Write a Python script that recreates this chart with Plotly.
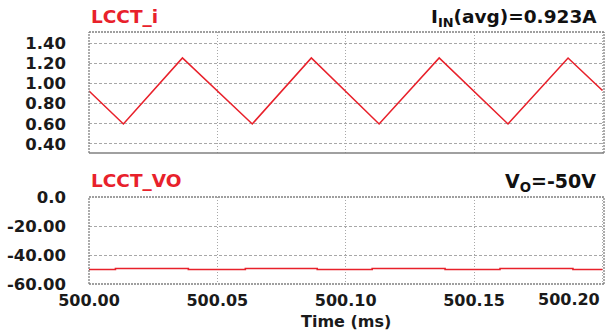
import plotly.graph_objects as go
from plotly.subplots import make_subplots

# Inductor current LCCT_i: triangle vertices (time in ms, current in A)
t_current = [500.0000, 500.0134, 500.0364, 500.0636, 500.0866,
             500.1130, 500.1364, 500.1632, 500.1866, 500.2000]
i_current = [0.925, 0.598, 1.252, 0.598, 1.252,
             0.598, 1.252, 0.598, 1.252, 0.930]

# Output voltage LCCT_VO: small step ripple around -50 V
t_vo = [500.0000, 500.0103, 500.0387, 500.0609, 500.0889,
        500.1103, 500.1387, 500.1601, 500.1885, 500.2000]
v_vo = [-50.0, -49.3, -50.0, -49.3, -50.0,
        -49.3, -50.0, -49.3, -50.0, -50.0]

x_ticks = [500.00, 500.05, 500.10, 500.15, 500.20]
x_tick_text = ["500.00", "500.05", "500.10", "500.15", "500.20"]
i_ticks = [0.40, 0.60, 0.80, 1.00, 1.20, 1.40]
i_tick_text = ["0.40", "0.60", "0.80", "1.00", "1.20", "1.40"]
v_ticks = [-60, -40, -20, 0]
v_tick_text = ["-60.00", "-40.00", "-20.00", "0.0"]

W, H = 606, 331
RED = "#e8212b"
GRID = "#a8a8a8"
FRAME = "#808080"
FONT = "DejaVu Sans"
INK = "#1a1a1a"

def py(px):
    return 1 - px / H

fig = make_subplots(rows=2, cols=1, shared_xaxes=False)

fig.add_trace(go.Scatter(x=t_current, y=i_current, mode="lines",
                         line=dict(color=RED, width=1.6), showlegend=False),
              row=1, col=1)
fig.add_trace(go.Scatter(x=t_vo, y=v_vo, mode="lines", line_shape="hv",
                         line=dict(color=RED, width=1.6), showlegend=False),
              row=2, col=1)

xdom = [89 / W, 604 / W]
x_range = [500.0, 500.2006]
ytickfont = dict(family=FONT, size=16.5, color=INK, weight="bold")
xtickfont = dict(family=FONT, size=16, color=INK, weight="bold")
xcommon = dict(range=x_range, domain=xdom, tickvals=x_ticks,
               showgrid=True, gridcolor=GRID, griddash="1px,2px", gridwidth=1,
               zeroline=False, showline=False, ticks="", automargin=False)

# The last time label sits against the right edge, so it is placed
# separately (right-aligned) and left blank on the axis itself.
axis_text = x_tick_text[:-1] + [""]
fig.update_xaxes(**xcommon, showticklabels=False, row=1, col=1)
fig.update_xaxes(**xcommon, ticktext=axis_text, tickfont=xtickfont,
                 showticklabels=True, ticklabelstandoff=5,
                 ticklabeloverflow="allow", row=2, col=1)
fig.add_annotation(text=x_tick_text[-1], xref="paper", yref="paper",
                   x=602 / W, y=py(299), xanchor="right", yanchor="middle",
                   showarrow=False, font=xtickfont)

ycommon = dict(showgrid=True, gridcolor=GRID, griddash="3px,2px", gridwidth=1,
               zeroline=False, showline=False, ticks="", tickfont=ytickfont,
               ticklabelstandoff=22, automargin=False)
fig.update_yaxes(**ycommon, range=[0.31, 1.51], domain=[py(153), py(32)],
                 tickvals=i_ticks, ticktext=i_tick_text, row=1, col=1)
fig.update_yaxes(**ycommon, range=[-60, 0], domain=[py(284), py(197)],
                 tickvals=v_ticks, ticktext=v_tick_text, row=2, col=1)

# Panel frames
for xr, yr, bottom_solid in (("x domain", "y domain", True),
                             ("x2 domain", "y2 domain", False)):
    for (x0, y0, x1, y1) in ((0, 0, 0, 1), (0, 1, 1, 1), (1, 0, 1, 1)):
        fig.add_shape(type="line", xref=xr, yref=yr, x0=x0, y0=y0, x1=x1, y1=y1,
                      line=dict(color=FRAME, width=1.3, dash="2px,1px"))
    fig.add_shape(type="line", xref=xr, yref=yr, x0=0, y0=0, x1=1, y1=0,
                  line=dict(color=FRAME, width=1.3,
                            dash="solid" if bottom_solid else "2px,1px"))

titlefont_red = dict(family=FONT, size=18.5, color=RED)
fig.add_annotation(text="<b>LCCT_i</b>", xref="paper", yref="paper",
                   x=89 / W, y=py(16), xanchor="left", yanchor="middle",
                   showarrow=False, font=titlefont_red)
fig.add_annotation(text="<b>LCCT_VO</b>", xref="paper", yref="paper",
                   x=89 / W, y=py(180), xanchor="left", yanchor="middle",
                   showarrow=False, font=titlefont_red)
fig.add_annotation(text="<b>I<sub>IN</sub>(avg)=0.923A</b>", xref="paper",
                   yref="paper", x=599 / W, y=py(18), xanchor="right",
                   yanchor="middle", showarrow=False,
                   font=dict(family=FONT, size=18.5, color="#111111"))
fig.add_annotation(text="<b>V<sub>O</sub>=-50V</b>", xref="paper",
                   yref="paper", x=598 / W, y=py(183), xanchor="right",
                   yanchor="middle", showarrow=False,
                   font=dict(family=FONT, size=19, color="#111111"))
fig.add_annotation(text="<b>Time (ms)</b>", xref="paper", yref="paper",
                   x=346 / W, y=py(321), xanchor="center", yanchor="middle",
                   showarrow=False,
                   font=dict(family=FONT, size=16, color=INK))

fig.update_layout(width=W, height=H, margin=dict(l=0, r=0, t=0, b=0),
                  plot_bgcolor="white", paper_bgcolor="white",
                  font=dict(family=FONT, size=15))

fig.write_html("out.html")
